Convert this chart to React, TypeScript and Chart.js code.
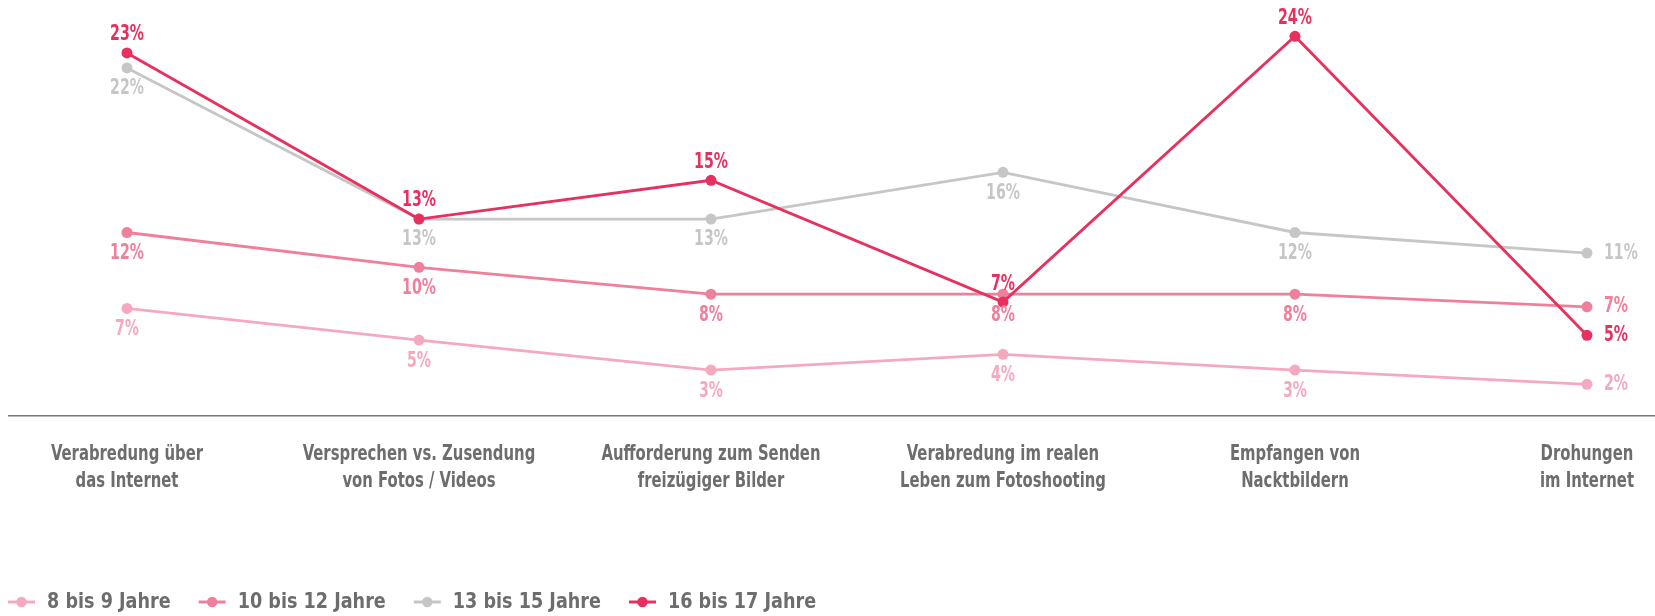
import React, { useEffect, useRef } from "react";
import { Chart, registerables } from "chart.js";

Chart.register(...registerables);

// ---------- data ----------
const categories: string[][] = [
  ["Verabredung über", "das Internet"],
  ["Versprechen vs. Zusendung", "von Fotos / Videos"],
  ["Aufforderung zum Senden", "freizügiger Bilder"],
  ["Verabredung im realen", "Leben zum Fotoshooting"],
  ["Empfangen von", "Nacktbildern"],
  ["Drohungen", "im Internet"],
];

const seriesNames = ["8 bis 9 Jahre", "10 bis 12 Jahre", "13 bis 15 Jahre", "16 bis 17 Jahre"];

const values8to9 = [6.8, 4.8, 2.9, 3.9, 2.9, 2.0];
const values10to12 = [11.6, 9.4, 7.7, 7.7, 7.7, 6.9];
const values13to15 = [22.0, 12.45, 12.45, 15.4, 11.6, 10.3];
const values16to17 = [22.95, 12.45, 14.9, 7.2, 24.0, 5.1];

const labels8to9 = ["7%", "5%", "3%", "4%", "3%", "2%"];
const labels10to12 = ["12%", "10%", "8%", "8%", "8%", "7%"];
const labels13to15 = ["22%", "13%", "13%", "16%", "12%", "11%"];
const labels16to17 = ["23%", "13%", "15%", "7%", "24%", "5%"];

// ---------- styles ----------
const FONT = "'DejaVu Sans Condensed', 'DejaVu Sans', sans-serif";
const colors = ["#f5a9bf", "#f07f9c", "#c6c6c6", "#e8305f"];
const textGray = "#6d6d6d";
const allValues = [values8to9, values10to12, values13to15, values16to17];
const allLabels = [labels8to9, labels10to12, labels13to15, labels16to17];
const labelAbove = [false, false, false, true];

const X_MIN = -0.4075;
const X_MAX = 5.233;

function drawCondensed(
  ctx: CanvasRenderingContext2D,
  text: string,
  x: number,
  y: number,
  align: CanvasTextAlign,
  factor: number
) {
  ctx.save();
  ctx.translate(x, y);
  ctx.scale(factor, 1);
  ctx.textAlign = align;
  ctx.textBaseline = "middle";
  ctx.fillText(text, 0, 0);
  ctx.restore();
}

const valueLabelPlugin = {
  id: "valueLabels",
  afterDatasetsDraw(chart: any) {
    const ctx = chart.ctx;
    ctx.save();
    ctx.font = `bold 21px ${FONT}`;
    chart.data.datasets.forEach((_ds: any, di: number) => {
      const meta = chart.getDatasetMeta(di);
      const texts = allLabels[di];
      ctx.fillStyle = colors[di];
      meta.data.forEach((pt: any, i: number) => {
        const last = i === meta.data.length - 1;
        if (last) drawCondensed(ctx, texts[i], pt.x + 17, pt.y, "left", 0.75);
        else if (labelAbove[di]) drawCondensed(ctx, texts[i], pt.x, pt.y - 18, "center", 0.75);
        else drawCondensed(ctx, texts[i], pt.x, pt.y + 21, "center", 0.75);
      });
    });
    ctx.restore();
  },
};

const categoryLabelPlugin = {
  id: "categoryLabels",
  afterDraw(chart: any) {
    const ctx = chart.ctx;
    const xs = chart.scales.x;
    const axisY = chart.chartArea.bottom;
    ctx.save();
    ctx.font = `bold 22px ${FONT}`;
    ctx.fillStyle = textGray;
    categories.forEach((lines, i) => {
      const px = xs.getPixelForValue(i);
      lines.forEach((line, li) => {
        drawCondensed(ctx, line, px, axisY + 38 + li * 27, "center", 0.75);
      });
    });
    ctx.restore();
  },
};

const legendPlugin = {
  id: "lineLegend",
  afterDraw(chart: any) {
    const ctx = chart.ctx;
    const y = chart.height - 14;
    const factor = 0.89;
    let x = 0;
    ctx.save();
    ctx.font = `bold 22px ${FONT}`;
    chart.data.datasets.forEach((ds: any) => {
      const color = ds.borderColor;
      ctx.strokeStyle = color;
      ctx.lineWidth = 3;
      ctx.beginPath();
      ctx.moveTo(x, y);
      ctx.lineTo(x + 27, y);
      ctx.stroke();
      ctx.fillStyle = color;
      ctx.beginPath();
      ctx.arc(x + 13.5, y, 5.2, 0, Math.PI * 2);
      ctx.fill();
      const tx = x + 27 + 12;
      ctx.fillStyle = textGray;
      drawCondensed(ctx, ds.label, tx, y, "left", factor);
      const w = ctx.measureText(ds.label).width * factor;
      x = tx + w + 28;
    });
    ctx.restore();
  },
};

export default function App() {
  const ref = useRef<HTMLCanvasElement | null>(null);

  useEffect(() => {
    if (!ref.current) return;
    const datasets = allValues.map((vals, di) => ({
      label: seriesNames[di],
      data: vals.map((v, i) => ({ x: i, y: v })),
      borderColor: colors[di],
      backgroundColor: colors[di],
      pointBackgroundColor: colors[di],
      pointBorderWidth: 0,
      pointRadius: 5.5,
      borderWidth: 2.8,
      tension: 0,
      order: di === 3 ? 0 : 1,
    }));

    const chart = new Chart(ref.current, {
      type: "line",
      data: { datasets },
      plugins: [valueLabelPlugin, categoryLabelPlugin, legendPlugin],
      options: {
        animation: false,
        responsive: true,
        maintainAspectRatio: false,
        layout: { autoPadding: false, padding: { top: 12.5, left: 0, right: 0, bottom: 0 } },
        plugins: {
          tooltip: { enabled: false },
          legend: { display: false },
        },
        scales: {
          x: {
            type: "linear",
            min: X_MIN,
            max: X_MAX,
            grid: { display: false, drawTicks: false },
            border: { display: true, color: "#777777", width: 1.5 },
            afterBuildTicks: (scale: any) => {
              scale.ticks = categories.map((_c, i) => ({ value: i }));
            },
            afterFit: (scale: any) => {
              scale.height = 200;
            },
            ticks: { display: false },
          },
          y: {
            display: false,
            min: 0,
            max: 25,
          },
        },
      },
    });
    return () => chart.destroy();
  }, []);

  return (
    <div style={{ position: "fixed", left: 8, top: 8, width: 1647, height: 608 }}>
      <canvas ref={ref} />
    </div>
  );
}
